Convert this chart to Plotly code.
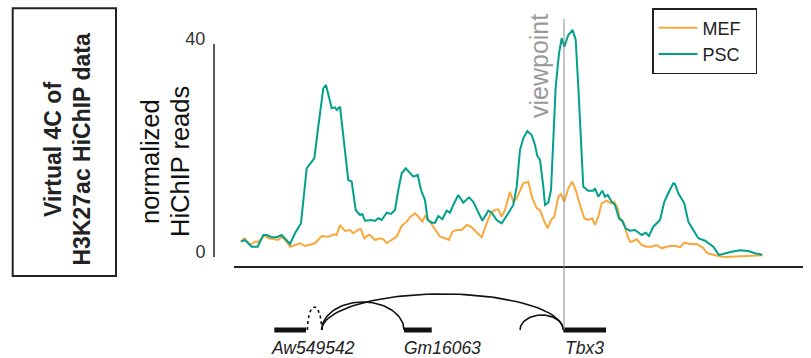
import numpy as np
import plotly.graph_objects as go

# ---------------- data ----------------
# genomic position (arbitrary units) and normalized HiChIP reads
psc_pos = [0, 4, 10.7, 16.7, 22.3, 25.7, 30.7, 35.7, 40.7, 44, 49, 54, 60, 65.7, 69, 73.3, 77.3,
           82.3, 85, 90.7, 94, 95.7, 99, 104, 107.3, 110.7, 114.7, 119, 121.3, 124, 127.3, 130.7,
           134, 137.3, 140.7, 145.7, 150, 154, 157.3, 160.7, 164.7, 169, 172.3, 176.7, 180, 184,
           186.7, 190.7, 194, 197.3, 201.3, 205.7, 209, 212.3, 217.3, 222.3, 228, 232.3, 237.3,
           241.3, 247.3, 250.7, 255.7, 259, 260.7, 267.3, 272.3, 275.7, 279, 282.3, 286.3, 290.7,
           294, 296.3, 299, 302.3, 304, 307.3, 310, 312.3, 314.7, 318, 320.7, 323.3, 327.3, 331.7,
           334.7, 337.3, 340, 342.3, 347.3, 352.3, 354, 357.3, 361.3, 364, 366.7, 370.7, 374, 378,
           380.7, 384.7, 389, 394, 400.7, 404.7, 408, 412.3, 419, 423.3, 427.3, 432.3, 434, 437.3,
           443.3, 447.3, 452.3, 457.3, 464, 472.3, 478, 484, 490.7, 499, 507.3, 514, 521.3]
psc_vals = [2.87, 3.19, 1.93, 1.93, 4.13, 4.13, 3.70, 3.70, 4.13, 3.51, 2.44, 4.45, 6.33, 16.66,
            17.46, 18.54, 24.47, 31.68, 32.30, 27.92, 28.11, 27.61, 28.23, 19.47, 14.46, 14.14,
            8.83, 7.89, 8.08, 6.82, 6.82, 6.95, 6.76, 7.27, 6.95, 8.32, 8.08, 8.83, 12.58, 15.72,
            16.66, 15.72, 15.08, 15.40, 12.58, 10.70, 6.95, 6.44, 6.44, 7.70, 7.08, 8.69, 8.32,
            9.77, 11.64, 10.20, 11.21, 10.38, 8.51, 6.82, 8.69, 8.32, 6.95, 6.63, 6.33, 8.21, 9.77,
            13.20, 20.09, 22.29, 23.66, 22.91, 21.03, 18.97, 18.22, 13.20, 9.77, 10.20, 12.58,
            21.97, 31.98, 38.25, 41.07, 39.49, 41.69, 42.63, 40.75, 31.98, 21.97, 13.20, 12.45,
            12.45, 12.90, 11.32, 12.45, 11.32, 11.64, 10.38, 9.77, 7.27, 6.95, 5.39, 4.94, 5.07,
            4.13, 4.56, 3.94, 5.69, 6.95, 10.38, 11.96, 13.84, 13.71, 11.96, 10.08, 6.63, 5.07,
            3.51, 3.06, 1.93, 0.38, 0.69, 1.00, 1.26, 1.13, 0.69, 0.43]

mef_pos = [0, 3.3, 9, 14, 17.3, 24, 27.3, 37.3, 40.7, 45.7, 49, 54, 59, 64, 74, 80.7, 87.3, 93.3,
           95.7, 99, 104, 109, 112.3, 118, 120, 123.3, 127.3, 129, 134, 139, 142.3, 145.7, 150.7,
           155.7, 160.7, 165.7, 169, 174, 177.3, 181.3, 184, 189, 194, 199, 204, 208, 211.3, 215.7,
           220.7, 225.7, 230, 235.7, 240.7, 245.7, 250, 254, 257.3, 260.7, 264, 269, 272.3, 275.7,
           282.3, 287.3, 291.3, 295.7, 299, 303.3, 306.7, 310, 313.3, 317.3, 320, 323.3, 327.3,
           331.3, 334.7, 339, 343.3, 347.3, 351.3, 354, 357.3, 360.7, 365.7, 370, 373.3, 376.7,
           379, 382.3, 386.7, 389, 390.7, 395.7, 400.7, 405.7, 410.7, 415.7, 420.7, 424, 429,
           435.7, 439, 443.3, 449, 455.7, 461.3, 466.7, 472.3, 477.3, 484, 494, 500.7, 510.7, 521.3]
mef_vals = [2.87, 3.51, 2.25, 2.87, 2.87, 4.13, 3.51, 3.19, 3.81, 2.87, 1.93, 2.25, 2.57, 2.07,
            2.57, 3.94, 3.81, 4.26, 4.13, 6.01, 4.88, 5.07, 4.45, 5.20, 5.20, 3.51, 4.13, 4.13,
            3.19, 3.51, 3.32, 2.57, 3.19, 3.81, 5.82, 6.63, 7.46, 8.21, 7.57, 6.63, 7.70, 6.63,
            5.20, 3.81, 3.51, 3.19, 4.75, 5.07, 5.07, 6.01, 5.69, 4.56, 3.70, 6.33, 8.32, 8.83,
            8.96, 7.57, 8.83, 12.26, 10.38, 11.02, 13.84, 14.14, 11.02, 9.15, 8.83, 6.63, 5.39,
            6.95, 7.57, 11.32, 11.83, 10.38, 12.90, 14.14, 12.58, 9.77, 7.27, 6.95, 7.27, 6.01,
            7.57, 10.08, 10.57, 10.08, 10.38, 9.15, 6.95, 6.63, 3.81, 2.87, 2.87, 3.32, 2.25,
            1.93, 1.93, 2.25, 1.63, 1.82, 2.07, 2.07, 1.82, 2.69, 2.44, 2.44, 1.82, 0.69, 0.38,
            0.19, 0.0, 0.06, 0.19, 0.19, 0.32]

viewpoint_pos = 323
y_ticks = [0, 40]

# gene track
gene_names = ["Aw549542", "Gm16063", "Tbx3"]
gene_start = [33.3, 163, 322.3]
gene_end = [65, 190.7, 365]
gene_label_pos = [72, 201.3, 343]

# loops: start, end, arc height (track units), dotted?
loop_start = [66.3, 80.7, 80.7, 279]
loop_end = [80.7, 163, 322.3, 322.3]
loop_height = [23, 28, 36, 15]
loop_dotted = [True, False, False, False]

# ---------------- figure ----------------
PSC_COL = "#00A08C"
MEF_COL = "#F9A83C"
FONT = "Liberation Sans, Arial, sans-serif"
PAD = "\u00a0\u00a0"  # trailing padding so the legend box is as wide as the original

# layout geometry (pixels) for decorations outside the plot area
W, H, ML, MR, MT, MB = 811, 358, 234, 8, 17, 0
PW, PH = W - ML - MR, H - MT - MB


def px_x(px):
    return (px - ML) / PW


def px_y(py):
    return (H - MB - py) / PH


fig = go.Figure()
fig.add_trace(go.Scatter(x=mef_pos, y=mef_vals, mode="lines", name="MEF" + PAD,
                         line=dict(color=MEF_COL, width=2)))
fig.add_trace(go.Scatter(x=psc_pos, y=psc_vals, mode="lines", name="PSC" + PAD,
                         line=dict(color=PSC_COL, width=2)))

BASE = 28
for s, e in zip(gene_start, gene_end):
    fig.add_trace(go.Scatter(x=[s, e], y=[BASE, BASE], mode="lines", xaxis="x", yaxis="y2",
                             line=dict(color="#111", width=5), showlegend=False, hoverinfo="skip"))
for s, e, h, d in zip(loop_start, loop_end, loop_height, loop_dotted):
    t = np.linspace(np.pi, 0, 60)
    c = (s + e) / 2
    r = (e - s) / 2
    fig.add_trace(go.Scatter(x=c + r * np.cos(t), y=BASE + h * np.sin(t), mode="lines",
                             xaxis="x", yaxis="y2",
                             line=dict(color="#111", width=1.6, dash="dot" if d else "solid"),
                             showlegend=False, hoverinfo="skip"))

for name, p in zip(gene_names, gene_label_pos):
    fig.add_annotation(x=p, y=10.5, xref="x", yref="y2", text=f"<i>{name}</i>",
                       xanchor="center", yanchor="middle",
                       showarrow=False, font=dict(family=FONT, size=17.5, color="#222"))

# viewpoint line
fig.add_shape(type="line", xref="x", yref="paper", x0=viewpoint_pos, x1=viewpoint_pos,
              y0=px_y(330), y1=px_y(19), line=dict(color="#8a8a8a", width=1))
fig.add_annotation(x=viewpoint_pos, xref="x", xshift=-25, y=px_y(66), yref="paper",
                   xanchor="center", yanchor="middle",
                   text="viewpoint", textangle=-90, showarrow=False,
                   font=dict(family=FONT, size=25, color="#9a9a9a"))

# y axis line from 0 to 40 (value 0 at py 257, 40 at py 44), drawn as a thin filled bar
fig.add_shape(type="rect", xref="paper", yref="paper", x0=px_x(213.2), x1=px_x(214.8),
              y0=px_y(257), y1=px_y(44), fillcolor="#333", line=dict(width=0))

# left box
fig.add_shape(type="rect", xref="paper", yref="paper", x0=px_x(12.7), x1=px_x(116),
              y0=px_y(276), y1=px_y(8.3), line=dict(color="#222", width=2))
fig.add_annotation(x=px_x(53), y=px_y(150), xref="paper", yref="paper",
                   text="<b>Virtual 4C of</b>", xanchor="center", yanchor="middle",
                   textangle=-90, showarrow=False, font=dict(family=FONT, size=23, color="#222"))
fig.add_annotation(x=px_x(81.5), y=px_y(150), xref="paper", yref="paper",
                   text="<b>H3K27ac HiChIP data</b>", xanchor="center", yanchor="middle",
                   textangle=-90, showarrow=False,
                   font=dict(family=FONT, size=23, color="#222"))

# y title
fig.add_annotation(x=px_x(150), y=px_y(162), xref="paper", yref="paper", text="normalized",
                   xanchor="center", yanchor="middle",
                   textangle=-90, showarrow=False, font=dict(family=FONT, size=25.5, color="#111"))
fig.add_annotation(x=px_x(180), y=px_y(162), xref="paper", yref="paper", text="HiChIP reads",
                   xanchor="center", yanchor="middle",
                   textangle=-90, showarrow=False, font=dict(family=FONT, size=25.5, color="#111"))

fig.update_layout(
    width=W, height=H,
    margin=dict(l=ML, r=MR, t=MT, b=MB),
    paper_bgcolor="white", plot_bgcolor="white",
    font=dict(family=FONT, color="#222"),
    showlegend=True,
    legend=dict(x=px_x(652), y=px_y(8), xanchor="left", yanchor="top",
                bordercolor="#222", borderwidth=1.5, bgcolor="white",
                itemwidth=39,
                font=dict(family=FONT, size=18, color="#222"), tracegroupgap=0),
    xaxis=dict(range=[-7, 562], showline=True, linecolor="#222", linewidth=1.5,
               showticklabels=False, ticks="", showgrid=False, zeroline=False),
    yaxis=dict(domain=[px_y(265.5), 1], range=[-1.6, 45.07], tickvals=y_ticks,
               ticktext=[str(v) for v in y_ticks], ticks="outside", ticklen=24,
               tickcolor="rgba(0,0,0,0)", showline=False, showgrid=False, zeroline=False,
               ticklabelshift=-5,
               tickfont=dict(family=FONT, size=18, color="#333")),
    yaxis2=dict(domain=[0, px_y(280)], range=[0, 78], visible=False, anchor="x"),
)

fig.write_html("out.html")
